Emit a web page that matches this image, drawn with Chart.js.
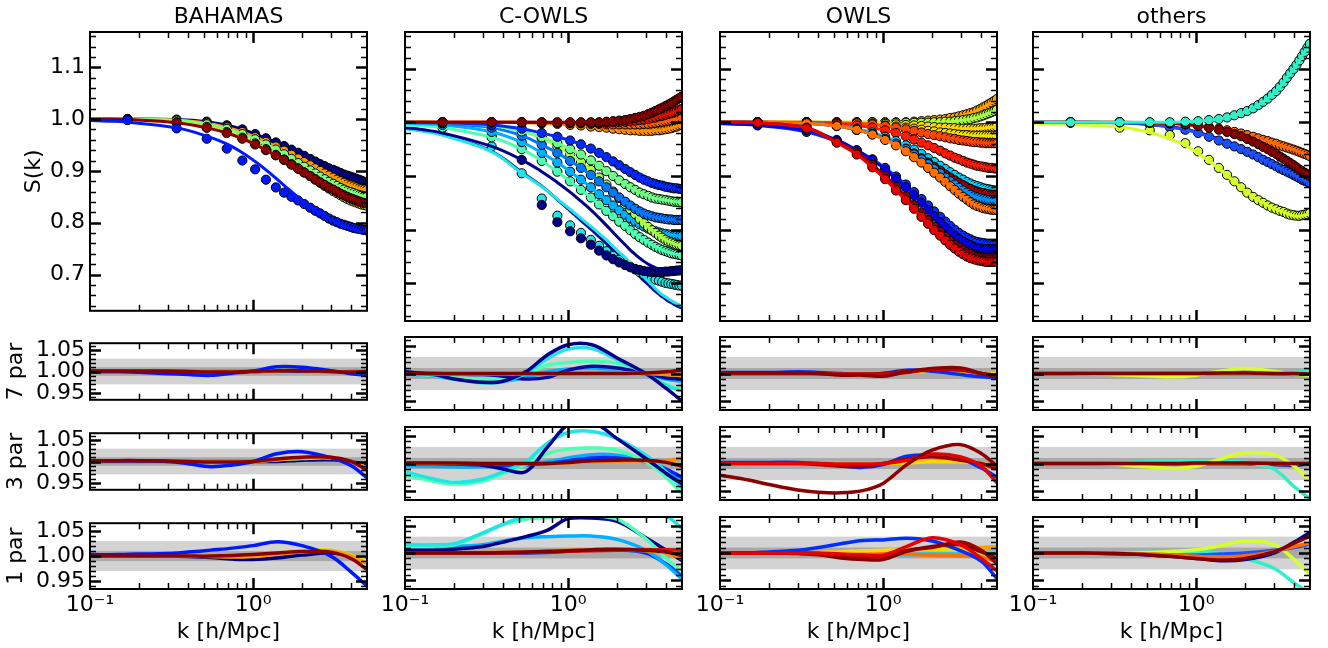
<!DOCTYPE html>
<html lang="en">
<head>
<meta charset="utf-8">
<title>S(k) fits - BAHAMAS / C-OWLS / OWLS / others</title>
<script src="https://cdn.jsdelivr.net/npm/chart.js@4.4.1/dist/chart.umd.min.js"></script>
<style>
  html, body { margin: 0; padding: 0; background: #fff; }
  #fig { position: relative; width: 1328px; height: 648px; overflow: hidden; }
  #fig canvas { position: absolute; }
</style>
</head>
<body>
<div id="fig"></div>

<script>
// ---------------- data ----------------
// k of the simulation bins; the fit lines also use the first two values
const K = [0.10,0.13,0.17,0.34,0.52,0.69,0.86,1.03,1.20,1.38,1.55,1.72,1.89,2.06,2.24,2.41,2.58,2.75,2.92,3.10,3.27,3.44,3.61,3.78,3.96,4.13,4.30,4.47,4.64,4.82,4.99];
// k grid of the residual curves
const KR = [0.10,0.15,0.20,0.30,0.40,0.55,0.75,1.00,1.40,2.00,3.00,4.00,5.00];

const COLUMN_TITLES = ['BAHAMAS', 'C-OWLS', 'OWLS', 'others'];
const ROW_TITLES = ['S(k)', '7 par', '3 par', '1 par'];

const X_TICKS = [0.1,0.2,0.3,0.4,0.5,0.6,0.7,0.8,0.9,1,2,3,4,5];
const X_MAJOR = [0.1, 1];
const X_TICK_TEXT = {0.1: '10\u207B\u00B9', 1: '10\u2070'};

const S_RANGE = [0.63, 1.168];
const S_MAJOR = [0.7, 0.8, 0.9, 1.0, 1.1];
const S_TEXT = ['0.7', '0.8', '0.9', '1.0', '1.1'];
const R_RANGE = [0.934, 1.066];
const R_MAJOR = [0.95, 1.00, 1.05];
const R_TEXT = ['0.95', '1.00', '1.05'];
const BAND_WIDE = [0.97, 1.03];
const BAND_NARROW = [0.99, 1.01];

// BAHAMAS: S(k) fits, one row per model
const BAHAMAS_FIT = [
  [1.000,1.000,1.000,0.999,0.995, 0.988,0.980,0.971,0.963,0.955, 0.948,0.941,0.935,0.929,0.923, 0.918,0.913,0.909,0.905,0.902, 0.899,0.896,0.893,0.891,0.889, 0.887,0.885,0.883,0.881,0.879,0.878],
  [1.000,1.000,1.000,0.998,0.992, 0.984,0.975,0.965,0.956,0.947, 0.939,0.931,0.924,0.917,0.911, 0.905,0.900,0.895,0.891,0.887, 0.883,0.880,0.877,0.874,0.872, 0.870,0.868,0.866,0.865,0.864,0.863],
  [1.000,1.000,1.000,0.997,0.990, 0.981,0.971,0.961,0.951,0.941, 0.932,0.923,0.915,0.908,0.901, 0.895,0.889,0.884,0.879,0.875, 0.871,0.867,0.864,0.861,0.859, 0.857,0.855,0.853,0.852,0.851,0.850],
  [1.000,1.000,0.999,0.994,0.985, 0.975,0.964,0.953,0.942,0.931, 0.922,0.913,0.905,0.897,0.890, 0.883,0.877,0.871,0.866,0.861, 0.857,0.853,0.849,0.846,0.843, 0.841,0.839,0.837,0.835,0.834,0.833],
  [1.000,1.000,0.999,0.993,0.983, 0.973,0.962,0.951,0.940,0.930, 0.921,0.912,0.904,0.897,0.890, 0.884,0.878,0.873,0.868,0.864, 0.860,0.856,0.853,0.850,0.847, 0.845,0.843,0.841,0.839,0.838,0.837],
  [0.997,0.996,0.994,0.983,0.967, 0.952,0.935,0.918,0.902,0.886, 0.872,0.860,0.849,0.840,0.832, 0.825,0.819,0.813,0.808,0.804, 0.800,0.797,0.794,0.791,0.789, 0.787,0.785,0.783,0.781,0.780,0.779]
];
// simulation points: null = they sit on the fit, false = no points
const BAHAMAS_PTS = [null, null, null, null, null,
  [null,null,0.998,0.982,0.962, 0.943,0.920,0.903,0.883,0.868, 0.858,0.850,0.843,0.836,0.829, 0.823,0.818,0.813,0.808,0.804, 0.801,0.798,0.796,0.794,0.792, 0.790,0.789,0.788,0.787,0.786,0.785]
];
// residuals: [model index, values on KR]
const BAHAMAS_RES7 = [
  [0, [1,1,1,1,1,1,1,1,1.001,1.001,1,1,1]],
  [2, [1,1,1,1,1,1,1,1,1.003,1.004,1.002,1.0,1.0]],
  [1, [1,1,1,1,1,1,0.999,1,1.002,1.003,1.0,1.0,1.0]],
  [5, [1.0,1.0,0.998,0.995,0.993,0.991,0.996,1.001,1.011,1.010,1.002,0.995,0.991]],
  [4, [1.001,1.001,1.001,1.001,1.0,0.999,0.999,1.0,1.002,1.002,1.0,0.999,1.0]]
];
const BAHAMAS_RES3 = [
  [0, [1,1,1,1,1,1,1,1,1.0,1.003,1.004,1.0,0.99]],
  [2, [1,1,1,1,1,1,1,1,1.004,1.007,1.008,0.998,0.986]],
  [1, [1,1,1,1,1,0.999,0.998,1.0,1.004,1.008,1.01,1.0,0.985]],
  [5, [1.001,1.001,1.001,1.0,0.995,0.988,0.992,1.0,1.018,1.023,1.009,0.99,0.962]],
  [4, [1.002,1.002,1.002,1.001,1.0,0.999,0.999,1.0,1.006,1.01,1.01,1.0,0.98]]
];
const BAHAMAS_RES1 = [
  [0, [1,1,1,1,0.999,0.997,0.994,0.993,0.996,1.002,1.006,1.0,0.99]],
  [3, [1,1,1,1,1,1,1,1.0,1.006,1.011,1.012,1.002,0.99]],
  [1, [1.0,1.0,1.0,1.0,1.0,0.999,0.998,0.999,1.004,1.008,1.01,1.0,0.985]],
  [5, [1.003,1.003,1.004,1.005,1.008,1.012,1.016,1.021,1.029,1.021,1.0,0.968,0.94]],
  [4, [1.0,1.0,1.0,1.0,1.0,1.0,1.001,1.003,1.006,1.009,1.008,0.995,0.973]]
];

// C-OWLS
const COWLS_FIT = [
  [0.989,0.984,0.977,0.946,0.907, 0.881,0.856,0.835,0.817,0.801, 0.787,0.774,0.762,0.751,0.741, 0.731,0.722,0.713,0.705,0.698, 0.691,0.685,0.680,0.675,0.671, 0.667,0.664,0.661,0.658,0.656,0.654],
  [0.988,0.983,0.976,0.945,0.905, 0.880,0.857,0.838,0.821,0.806, 0.793,0.781,0.769,0.758,0.748, 0.738,0.729,0.720,0.712,0.704, 0.697,0.690,0.684,0.679,0.675, 0.671,0.668,0.665,0.662,0.660,0.658],
  [0.990,0.986,0.980,0.955,0.930, 0.908,0.888,0.870,0.853,0.837, 0.822,0.808,0.795,0.783,0.772, 0.762,0.754,0.747,0.741,0.736, 0.732,0.729,0.727,0.725,0.724, 0.723,0.722,0.722,0.722,0.722,0.722],
  [0.995,0.993,0.990,0.972,0.950, 0.928,0.908,0.890,0.874,0.860, 0.847,0.835,0.825,0.815,0.807, 0.799,0.792,0.786,0.781,0.776, 0.772,0.768,0.765,0.762,0.760, 0.758,0.756,0.755,0.754,0.753,0.752],
  [0.998,0.997,0.995,0.982,0.963, 0.943,0.925,0.908,0.893,0.879, 0.866,0.855,0.845,0.836,0.828, 0.821,0.815,0.810,0.806,0.802, 0.799,0.797,0.795,0.793,0.792, 0.791,0.790,0.789,0.789,0.788,0.788],
  [1.000,1.000,0.999,0.995,0.984, 0.970,0.955,0.940,0.926,0.911, 0.897,0.884,0.871,0.859,0.848, 0.838,0.829,0.820,0.812,0.805, 0.799,0.794,0.789,0.785,0.781, 0.778,0.776,0.774,0.772,0.771,0.770],
  [1.000,0.999,0.998,0.990,0.975, 0.958,0.943,0.928,0.915,0.902, 0.890,0.879,0.869,0.860,0.852, 0.845,0.839,0.834,0.830,0.827, 0.825,0.823,0.822,0.821,0.820, 0.819,0.819,0.818,0.818,0.818,0.818],
  [1.000,1.000,0.999,0.994,0.983, 0.972,0.961,0.950,0.940,0.929, 0.919,0.909,0.900,0.892,0.885, 0.879,0.874,0.869,0.866,0.863, 0.860,0.858,0.857,0.856,0.855, 0.854,0.853,0.852,0.852,0.851,0.851],
  [1.000,1.000,0.999,0.995,0.988, 0.980,0.973,0.966,0.959,0.951, 0.943,0.935,0.927,0.920,0.913, 0.907,0.902,0.897,0.893,0.890, 0.887,0.885,0.883,0.882,0.880, 0.879,0.878,0.877,0.877,0.876,0.876],
  [1.000,1.000,1.000,1.000,0.999, 0.998,0.997,0.995,0.994,0.992, 0.991,0.990,0.988,0.987,0.986, 0.985,0.985,0.984,0.984,0.984, 0.984,0.985,0.985,0.986,0.987, 0.988,0.989,0.991,0.992,0.994,0.995],
  [1.000,1.000,1.000,1.000,1.000, 0.999,0.999,0.998,0.998,0.997, 0.997,0.996,0.996,0.996,0.996, 0.996,0.996,0.996,0.997,0.997, 0.998,0.999,1.000,1.001,1.002, 1.003,1.004,1.005,1.006,1.007,1.008],
  [1.000,1.000,1.000,1.000,1.000, 1.000,0.999,0.999,0.999,0.999, 0.999,0.999,1.000,1.000,1.001, 1.002,1.003,1.004,1.005,1.006, 1.008,1.009,1.011,1.012,1.014, 1.016,1.017,1.019,1.021,1.023,1.025],
  [1.000,1.000,1.000,1.000,1.000, 1.000,1.000,1.000,1.000,1.000, 1.000,1.001,1.002,1.003,1.004, 1.006,1.008,1.010,1.012,1.015, 1.018,1.021,1.024,1.027,1.030, 1.033,1.036,1.039,1.042,1.045,1.048]
];
const COWLS_PTS = [false,
  [null,null,0.990,0.955,0.905, 0.858,0.826,0.808,0.794,0.781, 0.770,0.760,0.751,0.744,0.737, 0.731,0.726,0.721,0.717,0.713, 0.710,0.707,0.705,0.703,0.701, 0.700,0.699,0.698,0.697,0.696,0.696],
  [null,null,0.999,0.975,0.930, 0.846,0.814,0.797,0.784,0.772, 0.761,0.752,0.745,0.739,0.734, 0.730,0.727,0.725,0.723,0.722, 0.721,0.721,0.721,0.721,0.722, 0.722,0.723,0.723,0.724,0.724,0.725],
  null, null, null, null, null, null, null, null, null, null
];
const COWLS_RES7 = [
  [4, [1.0,0.995,0.99,0.986,0.986,0.993,1.003,1.008,1.01,1.006,0.998,0.99,0.985]],
  [3, [1.0,0.996,0.992,0.99,0.992,1.0,1.015,1.02,1.022,1.018,1.0,0.98,0.972]],
  [0, [1.001,1.0,0.999,0.998,0.995,0.99,0.993,1.006,1.013,1.01,1.0,0.992,0.99]],
  [1, [1.003,0.997,0.99,0.983,0.985,1.0,1.027,1.044,1.045,1.025,1.0,0.978,0.968]],
  [2, [1.003,0.998,0.99,0.984,0.986,1.003,1.034,1.052,1.052,1.028,1.0,0.973,0.95]],
  [9, [0.999,0.999,0.999,0.999,0.999,0.999,0.999,1,1.001,1.002,1.0,0.998,0.997]],
  [12, [1,1,1,1,1,1,1,1,1,1,1.001,1.003,1.006]]
];
const COWLS_RES3 = [
  [4, [0.996,0.995,0.994,0.994,0.995,0.997,1.003,1.01,1.016,1.015,1.005,0.985,0.97]],
  [8, [1.0,1.0,0.999,0.998,0.997,0.998,1.0,1.005,1.01,1.01,1.003,0.99,0.975]],
  [3, [0.979,0.968,0.963,0.968,0.982,0.998,1.018,1.026,1.028,1.024,1.003,0.975,0.945]],
  [1, [0.985,0.972,0.966,0.972,0.985,1.003,1.037,1.056,1.058,1.045,1.015,0.985,0.955]],
  [2, [1.0,1.0,0.999,0.997,0.99,0.985,1.03,1.07,1.075,1.045,1.009,0.982,0.963]],
  [9, [1,1,1,1,1,1,1,1.001,1.003,1.004,1.005,1.005,1.01]],
  [12, [1.001,1.001,1.001,1.0,1.0,1.0,1.0,1.002,1.005,1.006,1.006,1.002,0.995]]
];
const COWLS_RES1 = [
  [8, [1.0,1.0,1.0,1.0,1.0,1.0,1.001,1.003,1.006,1.006,1.0,0.98,0.96]],
  [4, [1.012,1.012,1.012,1.015,1.022,1.028,1.03,1.031,1.031,1.025,1.005,0.978,0.952]],
  [2, [1.005,1.005,1.007,1.012,1.02,1.03,1.042,1.063,1.064,1.058,1.028,1.005,0.986]],
  [3, [1.012,1.013,1.015,1.035,1.052,1.062,1.065,1.068,1.068,1.062,1.026,0.99,0.965]],
  [1, [1.015,1.015,1.017,1.037,1.053,1.068,1.08,1.085,1.085,1.08,1.075,1.068,1.045]],
  [9, [1.0,1.0,1.0,1.001,1.002,1.003,1.004,1.005,1.006,1.006,1.004,1.0,0.99]],
  [11, [1,1,1,1,1,1.001,1.002,1.003,1.004,1.005,1.006,1.006,1.005]],
  [12, [1.0,1.0,1.0,1.0,1.001,1.002,1.003,1.004,1.006,1.007,1.005,1.002,0.995]]
];

// OWLS
const OWLS_FIT = [
  [1.000,1.000,1.000,1.000,1.000, 1.000,1.000,1.000,1.000,1.000, 1.001,1.002,1.003,1.004,1.005, 1.006,1.008,1.009,1.011,1.013, 1.015,1.017,1.019,1.022,1.025, 1.028,1.031,1.034,1.037,1.040,1.043],
  [1.000,1.000,1.000,1.000,1.000, 1.000,1.000,0.999,0.999,0.999, 0.999,0.999,0.999,1.000,1.000, 1.001,1.001,1.002,1.003,1.004, 1.005,1.006,1.008,1.009,1.011, 1.013,1.015,1.017,1.019,1.021,1.023],
  [1.000,1.000,1.000,1.000,0.999, 0.999,0.998,0.997,0.996,0.995, 0.994,0.993,0.992,0.991,0.990, 0.990,0.989,0.989,0.988,0.988, 0.988,0.988,0.988,0.988,0.989, 0.989,0.990,0.990,0.991,0.991,0.992],
  [1.000,1.000,1.000,1.000,0.999, 0.998,0.996,0.994,0.992,0.990, 0.988,0.986,0.984,0.983,0.981, 0.980,0.979,0.978,0.977,0.976, 0.976,0.975,0.975,0.975,0.975, 0.975,0.975,0.975,0.975,0.975,0.975],
  [1.000,1.000,1.000,1.000,0.999, 0.998,0.996,0.993,0.990,0.987, 0.984,0.981,0.978,0.976,0.974, 0.972,0.970,0.969,0.967,0.966, 0.965,0.964,0.963,0.963,0.962, 0.962,0.961,0.961,0.961,0.961,0.961],
  [1.000,1.000,1.000,0.999,0.997, 0.994,0.990,0.985,0.980,0.974, 0.968,0.962,0.957,0.952,0.947, 0.942,0.938,0.934,0.931,0.928, 0.925,0.923,0.921,0.919,0.918, 0.917,0.916,0.915,0.915,0.914,0.914],
  [1.000,1.000,1.000,0.998,0.994, 0.988,0.981,0.973,0.965,0.957, 0.949,0.941,0.933,0.926,0.919, 0.913,0.907,0.902,0.897,0.893, 0.889,0.886,0.883,0.881,0.879, 0.877,0.876,0.875,0.874,0.873,0.873],
  [1.000,1.000,1.000,0.998,0.993, 0.986,0.978,0.969,0.960,0.951, 0.942,0.933,0.925,0.917,0.910, 0.903,0.897,0.892,0.887,0.883, 0.879,0.876,0.873,0.871,0.869, 0.868,0.867,0.866,0.865,0.865,0.865],
  [1.000,1.000,1.000,0.998,0.993, 0.986,0.978,0.969,0.960,0.950, 0.940,0.931,0.922,0.913,0.905, 0.897,0.890,0.884,0.878,0.873, 0.869,0.865,0.862,0.860,0.858, 0.857,0.856,0.855,0.855,0.855,0.855],
  [1.000,1.000,1.000,0.998,0.993, 0.986,0.977,0.967,0.957,0.946, 0.935,0.925,0.915,0.906,0.897, 0.889,0.881,0.874,0.867,0.861, 0.856,0.851,0.847,0.844,0.842, 0.840,0.839,0.838,0.837,0.837,0.837],
  [0.997,0.996,0.994,0.982,0.964, 0.947,0.931,0.915,0.899,0.884, 0.870,0.857,0.845,0.834,0.824, 0.815,0.807,0.800,0.794,0.789, 0.785,0.782,0.779,0.777,0.776, 0.775,0.774,0.774,0.774,0.774,0.774],
  [0.998,0.997,0.995,0.985,0.967, 0.948,0.930,0.912,0.895,0.879, 0.864,0.850,0.837,0.825,0.814, 0.804,0.796,0.789,0.783,0.778, 0.774,0.771,0.768,0.766,0.765, 0.764,0.764,0.764,0.764,0.764,0.764],
  [1.000,1.000,0.999,0.990,0.964, 0.944,0.921,0.900,0.880,0.862, 0.846,0.831,0.818,0.806,0.796, 0.787,0.779,0.772,0.767,0.762, 0.758,0.755,0.752,0.750,0.749, 0.748,0.747,0.747,0.747,0.747,0.747],
  [1.000,1.000,0.999,0.989,0.962, 0.940,0.916,0.894,0.873,0.855, 0.839,0.824,0.811,0.799,0.789, 0.780,0.772,0.765,0.759,0.754, 0.750,0.747,0.745,0.743,0.742, 0.741,0.740,0.740,0.740,0.740,0.740]
];
const OWLS_PTS = [null, null, null, null, null, null, null, null, null, null, null, null, null, null];
const OWLS_RES7 = [
  [0, [1,1,1,1,1,1,1,1,1.003,1.005,1.004,1.0,1.0]],
  [2, [1,1,1,1,1,1,1,1,1.002,1.004,1.003,1.0,1.0]],
  [10, [1.002,1.002,1.002,1.003,1.002,1.0,0.998,1.0,1.006,1.004,0.998,0.994,0.992]],
  [7, [1.0,1.0,1.0,1.0,1.0,0.998,0.999,1.0,1.004,1.007,1.006,1.0,0.997]],
  [13, [1.0,1.0,1.0,1.0,1.0,0.999,0.999,0.998,1.002,1.008,1.008,1.0,0.996]],
  [12, [1.001,1.001,1.001,1.001,1.0,0.997,0.997,0.995,1.003,1.009,1.01,1.0,0.994]]
];
const OWLS_RES3 = [
  [0, [1,1,1,1,1,1,1,1,1.002,1.004,1.003,1.0,0.993]],
  [2, [1,1,1,1,1,1,1,1,1.001,1.003,1.003,1.0,0.995]],
  [10, [1.002,1.002,1.002,1.002,1.0,0.996,0.993,0.998,1.013,1.015,1.008,0.992,0.975]],
  [7, [1.0,1.0,1.0,1.0,0.998,0.995,0.995,1.0,1.008,1.012,1.006,1.0,0.99]],
  [13, [1.0,1.0,1.0,1.0,1.0,0.999,0.999,1.0,1.006,1.017,1.012,0.995,0.965]],
  [12, [0.979,0.970,0.962,0.952,0.948,0.947,0.951,0.964,0.998,1.024,1.034,1.018,0.995]]
];
const OWLS_RES1 = [
  [6, [1,1,1,1,0.999,0.998,0.997,0.996,0.997,0.998,0.998,0.998,0.998]],
  [0, [1,1,1,1,1.001,1.002,1.003,1.003,1.005,1.007,1.008,1.01,1.012]],
  [9, [1,1,1,1,1,1,1,1.0,0.998,0.996,0.995,0.992,0.985]],
  [2, [1,1,1,1,1.001,1.002,1.004,1.005,1.006,1.006,1.005,1.0,0.99]],
  [10, [1.0,1.0,1.002,1.005,1.01,1.017,1.023,1.024,1.027,1.022,1.004,0.985,0.953]],
  [7, [1,1,1,1,0.999,0.996,0.994,0.994,1.005,1.01,1.02,1.005,0.98]],
  [12, [1.0,1.0,1.0,0.999,0.997,0.991,0.988,0.988,1.003,1.012,1.015,1.002,0.99]],
  [13, [1.0,1.0,1.0,1.0,1.0,0.998,0.997,0.996,1.012,1.028,1.015,0.99,0.967]]
];

// others
const OTHERS_FIT = [
  [1.000,1.000,1.000,0.999,0.996, 0.992,0.987,0.981,0.975,0.969, 0.963,0.958,0.953,0.948,0.943, 0.938,0.934,0.930,0.926,0.922, 0.918,0.915,0.912,0.909,0.906, 0.903,0.900,0.898,0.896,0.894,0.892],
  [1.000,1.000,1.000,0.999,0.996, 0.991,0.986,0.980,0.973,0.966, 0.960,0.955,0.950,0.945,0.940, 0.935,0.930,0.926,0.922,0.918, 0.914,0.911,0.908,0.905,0.902, 0.899,0.896,0.893,0.891,0.889,0.887],
  [0.998,0.997,0.996,0.991,0.981, 0.969,0.957,0.942,0.928,0.914, 0.901,0.889,0.878,0.869,0.861, 0.855,0.850,0.845,0.841,0.838, 0.835,0.833,0.830,0.828,0.826, 0.825,0.825,0.826,0.827,0.829,0.831],
  [1.000,1.000,1.000,1.000,0.999, 0.998,0.996,0.994,0.991,0.988, 0.985,0.982,0.979,0.976,0.973, 0.970,0.967,0.965,0.962,0.960, 0.957,0.955,0.953,0.951,0.949, 0.947,0.945,0.943,0.941,0.939,0.937],
  [1.000,1.000,1.000,1.000,0.999, 0.998,0.996,0.993,0.990,0.986, 0.982,0.978,0.974,0.969,0.964, 0.959,0.954,0.950,0.945,0.941, 0.936,0.932,0.928,0.924,0.920, 0.916,0.912,0.909,0.906,0.903,0.900],
  [1.000,1.000,1.000,1.000,1.000, 1.000,1.001,1.002,1.004,1.006, 1.009,1.013,1.017,1.021,1.026, 1.032,1.038,1.044,1.051,1.058, 1.066,1.074,1.083,1.091,1.099, 1.107,1.115,1.123,1.131,1.139,1.146]
];
const OTHERS_PTS = [false, null,
  [null,null,0.999,0.990,0.985, 0.976,0.961,0.946,0.930,0.915, 0.902,0.890,0.879,0.869,0.861, 0.855,0.850,0.845,0.841,0.838, 0.835,0.833,0.830,0.828,0.827, 0.826,0.826,0.827,0.828,0.829,0.831],
  null, null, null
];
const OTHERS_RES7 = [
  [0, [1,1,1,1,1,1,1,1,1,1,1,1,1]],
  [1, [1,1,0.999,0.999,0.999,0.999,1.0,1.0,1.001,1.001,1.0,0.998,0.998]],
  [5, [1,1,1,1,1,1,1,1,1,1,1.0,1.002,1.004]],
  [2, [1.0,1.0,0.999,0.998,0.997,0.995,0.994,0.997,1.004,1.009,1.004,0.998,0.997]],
  [3, [1,1,1,1,1,1,1,1,1.001,1.002,1.0,0.999,0.999]],
  [4, [1,1,1,1,1,1,1,1,1.001,1.001,1.0,1.0,0.999]]
];
const OTHERS_RES3 = [
  [0, [1,1,1,1,1,1,1,1,1,1,0.998,0.997,1.0]],
  [1, [1,1,1,1,1,1,1,1,1,1.0,0.999,0.998,1.0]],
  [5, [1.0,1.0,1.0,1.001,1.002,1.004,1.005,1.005,1.004,1.002,0.99,0.958,0.936]],
  [2, [1.0,1.0,1.0,0.999,0.996,0.993,0.991,0.995,1.008,1.019,1.016,0.995,0.968]],
  [3, [1,1,1,1,1,1,1,1,1,1.001,1.001,1.0,1.0]],
  [4, [1,1,1,1,1,1,1,1.001,1.001,1.001,1.0,1.0,1.0]]
];
const OTHERS_RES1 = [
  [5, [1.0,1.0,1.0,1.0,1.001,1.002,1.003,1.003,1.0,0.99,0.972,0.945,0.925]],
  [2, [1.0,1.0,1.0,1.0,1.0,1.001,1.003,1.006,1.013,1.022,1.016,0.988,0.96]],
  [1, [1.0,1.0,1.0,0.999,0.998,0.997,0.996,0.996,0.998,1.0,1.005,1.01,1.016]],
  [0, [1.0,1.0,1.0,0.999,0.998,0.996,0.993,0.99,0.986,0.988,1.0,1.02,1.038]],
  [3, [1.0,1.0,1.0,1.0,0.999,0.998,0.996,0.994,0.993,0.995,1.003,1.012,1.018]],
  [4, [1.0,1.0,1.0,0.999,0.998,0.996,0.993,0.99,0.987,0.99,1.002,1.018,1.031]]
];

// ---------------- style ----------------
const BAHAMAS_COLOURS = ['#00007f', '#ff9900', '#7cff79', '#dede00', '#8b0000', '#0018ff'];
const COWLS_COLOURS = ['#0a0aa0', '#22e4e4', '#00008b', '#4cffb2', '#00b0ff', '#a8ff4e', '#0078ff',
                       '#70ff86', '#0028ff', '#ff8c00', '#ff5a00', '#d81000', '#800000'];
const OWLS_COLOURS = ['#ffa000', '#a8ff40', '#ffd700', '#f0e000', '#ff4400', '#ff1a00', '#00d0ff',
                      '#a00000', '#0090ff', '#ff7000', '#0030ff', '#0000e0', '#8b0000', '#e60000'];
const OTHERS_COLOURS = ['#00008f', '#1a50ff', '#d4ff2a', '#ff6a00', '#840000', '#30f0c8'];

const PANELS = [
  {fit: BAHAMAS_FIT, pts: BAHAMAS_PTS, colours: BAHAMAS_COLOURS, res: [BAHAMAS_RES7, BAHAMAS_RES3, BAHAMAS_RES1]},
  {fit: COWLS_FIT, pts: COWLS_PTS, colours: COWLS_COLOURS, res: [COWLS_RES7, COWLS_RES3, COWLS_RES1]},
  {fit: OWLS_FIT, pts: OWLS_PTS, colours: OWLS_COLOURS, res: [OWLS_RES7, OWLS_RES3, OWLS_RES1]},
  {fit: OTHERS_FIT, pts: OTHERS_PTS, colours: OTHERS_COLOURS, res: [OTHERS_RES7, OTHERS_RES3, OTHERS_RES1]}
];

// plot boxes (px)
const PLOT_LEFT = [90, 405, 720, 1033], PLOT_W = 277;
const PLOT_TOP = [32, 337, 427, 517], PLOT_H = [289, 73, 73, 72];

Chart.defaults.font.family = "'DejaVu Sans', sans-serif";
Chart.defaults.font.size = 22;
Chart.defaults.color = '#000';

function minorTicks(range, step, majors) {
  const out = [];
  for (let v = Math.ceil(range[0] / step) * step; v <= range[1] + 1e-9; v += step) {
    const r = Math.round(v * 1000) / 1000;
    if (!majors.some(m => Math.abs(m - r) < 1e-6)) out.push(r);
  }
  return out;
}

// inward ticks on all four sides, frame, and the grey bands of the ratio panels
const framePlugin = {
  id: 'frame',
  beforeDatasetsDraw(chart, args, o) {
    if (!o.band) return;
    const {ctx, chartArea: a} = chart, y = chart.scales.y;
    const fill = (b, c) => {
      const y1 = y.getPixelForValue(b[1]), y0 = y.getPixelForValue(b[0]);
      ctx.fillStyle = c;
      ctx.fillRect(a.left, y1, a.right - a.left, y0 - y1);
    };
    ctx.save();
    fill(BAND_WIDE, '#d3d3d3');
    fill(BAND_NARROW, '#a9a9a9');
    ctx.restore();
  },
  afterDraw(chart, args, o) {
    const {ctx, chartArea: a} = chart, x = chart.scales.x, y = chart.scales.y;
    ctx.save();
    ctx.strokeStyle = '#000';
    const xt = (vals, len, lw) => {
      ctx.lineWidth = lw;
      vals.forEach(v => {
        const p = Math.round(x.getPixelForValue(v)) + 0.5;
        ctx.beginPath();
        ctx.moveTo(p, a.bottom); ctx.lineTo(p, a.bottom - len);
        ctx.moveTo(p, a.top); ctx.lineTo(p, a.top + len);
        ctx.stroke();
      });
    };
    const yt = (vals, len, lw) => {
      ctx.lineWidth = lw;
      vals.forEach(v => {
        const p = Math.round(y.getPixelForValue(v)) + 0.5;
        ctx.beginPath();
        ctx.moveTo(a.left, p); ctx.lineTo(a.left + len, p);
        ctx.moveTo(a.right, p); ctx.lineTo(a.right - len, p);
        ctx.stroke();
      });
    };
    xt(X_TICKS.filter(v => !X_MAJOR.includes(v) && v < 5), 6, 1.5);
    xt(X_MAJOR.filter(v => v > 0.1), 11, 2.5);
    yt(o.yMinor, 6, 1.5);
    yt(o.yMajor, 11, 2.5);
    ctx.lineWidth = 2;
    ctx.strokeRect(a.left, a.top, a.right - a.left, a.bottom - a.top);
    ctx.restore();
  }
};
Chart.register(framePlugin);

function fitDatasets(p) {
  const out = [];
  p.fit.forEach((vals, m) => {
    const c = p.colours[m], pv = p.pts[m];
    if (pv !== false) {
      const src = pv || vals;
      out.push({
        data: K.map((k, i) => ({x: k, y: src[i]})).filter((d, i) => i >= 2 && d.y != null),
        showLine: false, pointRadius: 4.6, pointBackgroundColor: c,
        pointBorderColor: '#000', pointBorderWidth: 1, clip: 0
      });
    }
    out.push({
      data: K.map((k, i) => ({x: k, y: vals[i]})),
      showLine: true, borderColor: c, borderWidth: 3, pointRadius: 0, tension: 0.4, clip: 0
    });
  });
  return out.reverse();   // Chart.js paints the first dataset last
}

function resDatasets(p, rows) {
  return rows.map(([m, vals]) => ({
    data: KR.map((k, i) => ({x: k, y: vals[i]})),
    showLine: true, borderColor: p.colours[m], borderWidth: 3.5, pointRadius: 0, tension: 0.35, clip: 0
  })).reverse();
}

const fig = document.getElementById('fig');

function makePanel(col, row) {
  const p = PANELS[col];
  const L = col === 0 ? 90 : 40;
  const T = row === 0 ? 32 : 12;
  const B = row === 3 ? 648 - (PLOT_TOP[3] + PLOT_H[3]) : 8;
  const R = 8;
  const w = L + PLOT_W + R, h = T + PLOT_H[row] + B;
  const cv = document.createElement('canvas');
  cv.width = w; cv.height = h;
  cv.style.left = (PLOT_LEFT[col] - L) + 'px';
  cv.style.top = (PLOT_TOP[row] - T) + 'px';
  cv.style.width = w + 'px'; cv.style.height = h + 'px';
  fig.appendChild(cv);

  const top = row === 0;
  const range = top ? S_RANGE : R_RANGE;
  const majors = top ? S_MAJOR : R_MAJOR;
  const texts = top ? S_TEXT : R_TEXT;
  const yTickVals = [range[0], ...majors, range[1]];

  new Chart(cv, {
    type: 'scatter',
    data: {datasets: top ? fitDatasets(p) : resDatasets(p, p.res[row - 1])},
    options: {
      responsive: false, animation: false, events: [],
      layout: {padding: {top: top ? 0 : T, right: R, left: 0, bottom: 0}},
      plugins: {
        legend: {display: false}, tooltip: {enabled: false},
        title: {display: top, text: COLUMN_TITLES[col], fullSize: false, color: '#000',
                font: {size: 22, weight: 'normal'}, padding: {top: 4, bottom: 1.6}},
        frame: {band: !top, yMajor: majors, yMinor: minorTicks(range, top ? 0.02 : 0.01, majors)}
      },
      scales: {
        x: {
          type: 'logarithmic', min: 0.1, max: 5,
          afterBuildTicks: s => { s.ticks = X_TICKS.map(v => ({value: v})); },
          afterFit: s => { s.height = B; },
          grid: {display: false, drawTicks: false}, border: {display: false},
          ticks: {display: row === 3, autoSkip: false, maxRotation: 0, padding: 3, color: '#000',
                  callback: v => X_TICK_TEXT[v] ?? null},
          title: {display: row === 3, text: 'k [h/Mpc]', color: '#000', padding: {top: 0, bottom: 3}}
        },
        y: {
          type: 'linear', min: range[0], max: range[1],
          afterBuildTicks: s => { s.ticks = yTickVals.map(v => ({value: v})); },
          afterFit: s => { s.width = L; },
          grid: {display: false, drawTicks: false}, border: {display: false},
          ticks: {display: col === 0, autoSkip: false, padding: 5, color: '#000',
                  callback: (v, i) => texts[i - 1] ?? null},
          title: {display: col === 0, text: ROW_TITLES[row], color: '#000',
                  padding: {top: top ? 21 : 3, bottom: 0}}
        }
      }
    }
  });
}

for (let row = 0; row < 4; row++) {
  for (let col = 0; col < 4; col++) makePanel(col, row);
}
</script>
</body>
</html>
